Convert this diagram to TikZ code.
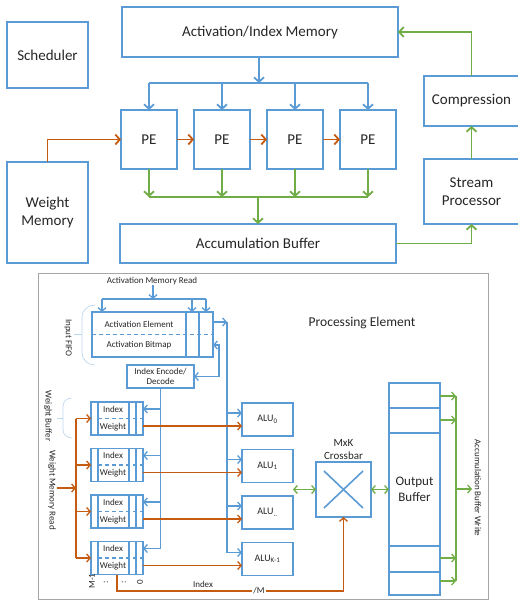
\documentclass[tikz,border=0pt]{standalone}
\usepackage{fontspec}
\setmainfont{Carlito}
\usetikzlibrary{arrows.meta}
\definecolor{cblue}{HTML}{5B9BD5}
\definecolor{corange}{HTML}{C55A11}
\definecolor{cgreen}{HTML}{70AD47}
\definecolor{cgray}{HTML}{A6A6A6}
\definecolor{clight}{HTML}{BDD7EE}
\begin{document}
\begin{tikzpicture}[x=1pt,y=-1pt,
  bigbox/.style={draw=cblue,line width=1.8pt,inner sep=0pt,outer sep=0pt,align=center,text=black!85,font=\fontsize{15}{18.5}\selectfont},
  smallbox/.style={draw=cblue,line width=1.3pt,inner sep=0pt,outer sep=0pt,align=center,text=black!85,font=\fontsize{9}{10.5}\selectfont},
  lab/.style={inner sep=0pt,text=black!85,font=\fontsize{9}{10.5}\selectfont,align=center},
  tbl/.style={draw=cblue,line width=1.8pt,-{Straight Barb[length=4.5pt,width=10pt]}},
  tbline/.style={draw=cblue,line width=1.8pt},
  tor/.style={draw=corange,line width=1.8pt,-{Straight Barb[length=4.5pt,width=10pt]}},
  tgr/.style={draw=cgreen,line width=1.8pt,-{Straight Barb[length=4.5pt,width=10pt]}},
  tgline/.style={draw=cgreen,line width=1.8pt},
  bbl/.style={draw=cblue,line width=1.3pt,-{Straight Barb[length=3.5pt,width=8pt]}},
  bbboth/.style={draw=cblue,line width=1.3pt,{Straight Barb[length=3.5pt,width=8pt]}-{Straight Barb[length=3.5pt,width=8pt]}},
  bbline/.style={draw=cblue,line width=1.3pt},
  cell/.style={draw=cblue,line width=1.3pt},
  dline/.style={draw=cblue,line width=1.3pt,dash pattern=on 4pt off 3pt},
  bor/.style={draw=corange,line width=1.3pt,-{Straight Barb[length=3.5pt,width=8pt]}},
  borline/.style={draw=corange,line width=1.3pt},
  bgr/.style={draw=cgreen,line width=1.3pt,-{Straight Barb[length=3.5pt,width=8pt]}},
  bgboth/.style={draw=cgreen,line width=1.3pt,{Straight Barb[length=3.5pt,width=8pt]}-{Straight Barb[length=3.5pt,width=8pt]}},
  bgline/.style={draw=cgreen,line width=1.3pt},
  brace/.style={draw=clight,line width=0.7pt}
]
\useasboundingbox (0,0) rectangle (517,600);

% ---------------- top diagram ----------------
\node[bigbox,minimum width=81pt,minimum height=66pt] (sched) at (47.5,55) {Scheduler};
\node[bigbox,minimum width=276pt,minimum height=50pt] (actmem) at (260,32) {Activation/Index Memory};
\node[bigbox,minimum width=95pt,minimum height=50pt] (compr) at (471.5,101) {Compression};
\node[bigbox,minimum width=95pt,minimum height=65pt] (stream) at (471.5,191.5) {Stream\\Processor};
\node[bigbox,minimum width=81pt,minimum height=101pt] (wmem) at (47.5,212.5) {Weight\\Memory};
\node[bigbox,minimum width=276pt,minimum height=39pt] (accbuf) at (258,243.5) {Accumulation Buffer};
\foreach \i/\x in {1/149,2/222,3/295,4/368}
  \node[bigbox,minimum width=56pt,minimum height=59pt] (pe\i) at (\x,139.5) {PE};

\coordinate (bt) at (259,83);
\draw[tbl] (actmem.south -| bt) -- (bt);
\draw[tbline] (pe1.north |- bt) -- (pe4.north |- bt);
\foreach \i in {1,2,3,4} \draw[tbl] (pe\i.north |- bt) -- (pe\i.north);

\draw[tor] (wmem.north) |- (pe1.west);
\draw[tor] (pe1.east) -- (pe2.west);
\draw[tor] (pe2.east) -- (pe3.west);
\draw[tor] (pe3.east) -- (pe4.west);

\coordinate (gb) at (258,197);
\foreach \i in {1,2,3,4} \draw[tgr] (pe\i.south) -- (pe\i.south |- gb);
\draw[tgline] (pe1.south |- gb) -- (pe4.south |- gb);
\draw[tgr] (accbuf.north |- gb) -- (accbuf.north);
\draw[tgr] (accbuf.east) -| (stream.south);
\draw[tgr] (stream.north) -- (compr.south);
\draw[tgr] (compr.north) |- (actmem.east);

% ---------------- bottom diagram ----------------
\draw[cgray,line width=1pt] (38,273) rectangle (488,599);
\node[inner sep=0pt,text=black!85,font=\fontsize{13.5}{16}\selectfont] (petitle) at (362,323) {Processing Element};

\node[lab] (amr) at (152,281) {Activation Memory Read};
\node[smallbox,minimum width=121pt,minimum height=45pt] (fifo) at (152.5,334.5) {};
\draw[cell] (186,312) -- (186,357);
\draw[cell] (199,312) -- (199,357);
\draw[dline] (fifo.west) -- (fifo.east);
\node[lab] at (139,324) {Activation Element};
\node[lab] at (139,345) {Activation Bitmap};

\coordinate (ab) at (153,299);
\draw[bbl] (amr.south -| ab) -- (ab);
\draw[bbline] (102,299) -- (206,299);
\draw[bbl] (102,299) -- (fifo.north -| 102,0);
\draw[bbl] (192,299) -- (fifo.north -| 192,0);
\draw[bbl] (206,299) -- (fifo.north -| 206,0);

\node[smallbox,minimum width=67pt,minimum height=23pt] (idx) at (160.5,376.5) {Index Encode/\\Decode};

% braces
\draw[brace] (95,305) to[out=180,in=90] (82,317) -- (82,353) to[out=-90,in=180] (95,365);
\draw[brace] (82,334) -- (74,334);
\node[lab,rotate=-90] (ififo) at (68,338) {Input FIFO};
\draw[brace] (72,398) to[out=180,in=90] (63,406) -- (63,430) to[out=-90,in=180] (72,438);
\draw[brace] (63,418) -- (57,418);
\node[lab,rotate=-90] (wbl) at (48,416) {Weight Buffer};
\node[lab,rotate=-90] (wmr) at (52,490) {Weight Memory Read};

% weight buffers and ALUs
\foreach \i/\c in {1/418.5,2/465,3/511.5,4/558} {
  \node[smallbox,minimum width=52pt,minimum height=33pt] (wb\i) at (117,\c) {};
  \draw[cell] (98,\c-16.5) -- (98,\c+16.5);
  \draw[cell] (129,\c-16.5) -- (129,\c+16.5);
  \draw[cell] (136,\c-16.5) -- (136,\c+16.5);
  \draw[dline] (98,\c) -- (143,\c);
  \node[lab] at (113,\c-9.5) {Index};
  \node[lab] at (113,\c+8.5) {Weight};
}
\node[smallbox,minimum width=51pt,minimum height=33pt,font=\fontsize{10}{12}\selectfont] (alu1) at (267.5,419.5) {ALU\textsubscript{0}};
\node[smallbox,minimum width=51pt,minimum height=33pt,font=\fontsize{10}{12}\selectfont] (alu2) at (267.5,466) {ALU\textsubscript{1}};
\node[smallbox,minimum width=51pt,minimum height=33pt,font=\fontsize{10}{12}\selectfont] (alu3) at (267.5,512.5) {ALU\textsubscript{..}};
\node[smallbox,minimum width=51pt,minimum height=33pt,font=\fontsize{10}{12}\selectfont] (alu4) at (267.5,559) {ALU\textsubscript{K-1}};

% blue from FIFO to ALUs
\coordinate (trunk) at (227,322);
\draw[bbl] (fifo.east |- trunk) -- (trunk);
\foreach \i in {1,2,3,4} {
  \coordinate (ba\i) at ([yshift=6.5pt]alu\i.west -| trunk);
  \draw[bbl] (ba\i) -- (ba\i -| alu\i.west);
}
\draw[bbline] (trunk) -- (ba4);

% FIFO <-> Index encode
\coordinate (fb) at (219,345);
\draw[bbboth] (fifo.east |- fb) -- (fb) |- (idx.east);

% Index encode to weight buffers
\foreach \i in {1,2,3,4} {
  \coordinate (bi\i) at ([yshift=9.5pt]wb\i.east -| idx.south);
  \draw[bbl] (bi\i) -- (bi\i -| wb\i.east);
}
\draw[bbline] (idx.south) -- (bi4);

% weight memory read (orange)
\coordinate (wmrin) at (57,488);
\coordinate (otr) at (76,488);
\draw[bor] (wmrin) -- (otr);
\draw[borline] (otr |- wb1.west) -- (otr |- wb4.west);
\foreach \i in {1,2,3,4} \draw[bor] (otr |- wb\i.west) -- (wb\i.west);

% weights to ALUs
\foreach \i in {1,2,3,4} {
  \coordinate (ow\i) at ([yshift=-7.5pt]wb\i.east);
  \draw[bor] (ow\i) -- (ow\i -| alu\i.west);
}

% crossbar
\node[smallbox,minimum width=55pt,minimum height=55pt] (xbar) at (343.5,489.5) {};
\draw[draw=cblue,line width=1.6pt] (324,471) -- (363,508);
\draw[draw=cblue,line width=1.6pt] (363,471) -- (324,508);
\node[lab,font=\fontsize{11}{13}\selectfont] (xlab) at (343.5,449.5) {MxK\\Crossbar};

% output buffer
\node[smallbox,minimum width=51pt,minimum height=212pt,font=\fontsize{13}{16}\selectfont] (obuf) at (414.5,489) {Output\\Buffer};
\draw[cell] (389,408) -- (440,408);
\draw[cell] (389,433) -- (440,433);
\draw[cell] (389,546) -- (440,546);
\draw[cell] (389,572) -- (440,572);

\coordinate (ga) at (293,489.5);
\draw[bgboth] (ga) -- (xbar.west);
\draw[bgboth] (xbar.east) -- (xbar.east -| obuf.west);

\foreach \i/\y in {1/396,2/420,3/558,4/581} {
  \coordinate (go\i) at (456,\y);
  \draw[bgr] (go\i -| obuf.east) -- (go\i);
}
\draw[bgline] (go1) -- (go4);
\coordinate (gout) at (472,489);
\draw[bgr] (go1 |- gout) -- (gout);
\node[lab,rotate=-90] (abw) at (478,488) {Accumulation Buffer Write};

% index to crossbar
\coordinate (ib) at (117,591);
\draw[bor] (wb4.south) -- (ib) -| (xbar.south);
\node[lab] (ilab) at (203,584) {Index};
\node[lab,fill=white,inner sep=1pt] (mlab) at (259,591) {/M};

% bit labels
\node[lab,rotate=90] (bm1) at (92,581) {M-1};
\node[lab,rotate=90] (bd1) at (106,582) {:};
\node[lab,rotate=90] (bd2) at (124,582) {:};
\node[lab,rotate=90] (b0) at (140,582) {0};
\end{tikzpicture}
\end{document}
